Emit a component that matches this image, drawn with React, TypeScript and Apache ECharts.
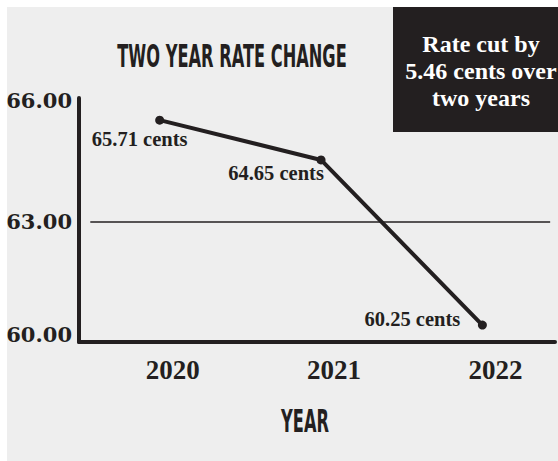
import React, { useEffect, useRef } from "react";
import * as echarts from "echarts";

const years = [2020, 2021, 2022];
const rates = [65.71, 64.65, 60.25];
const yTickValues = [60, 63, 66];
const referenceValue = 63;
const titleText = "TWO YEAR RATE CHANGE";
const xAxisTitle = "YEAR";
const noteLines = ["Rate cut by", "5.46 cents over", "two years"];

const INK = "#231f20";

export default function App() {
  const ref = useRef<HTMLDivElement>(null);
  useEffect(() => {
    if (!ref.current) return;
    const chart = echarts.init(ref.current, undefined, { renderer: "svg" });
    const labelOffsets = [
      [-20, 19],
      [-45, 13],
      [-70, -6],
    ];
    const isTick = (v: number, t: number) => Math.abs(v - t) < 1e-6;
    chart.setOption({
      animation: false,
      backgroundColor: "#ffffff",
      grid: { left: 79, right: 0, top: 98, bottom: 119, containLabel: false },
      xAxis: {
        type: "value",
        min: 2019.5,
        max: 2022.45,
        interval: 0.5,
        axisLine: { show: true, lineStyle: { color: INK, width: 4 } },
        axisTick: { show: false },
        splitLine: { show: false },
        axisLabel: {
          margin: 14,
          padding: [0, 0, 0, 26],
          fontFamily: "Liberation Serif",
          fontWeight: "bold",
          fontSize: 27,
          color: INK,
          showMinLabel: true,
          showMaxLabel: true,
          formatter: (v: number) => {
            const hit = years.find((y) => isTick(v, y));
            return hit !== undefined ? String(hit) : "";
          },
        },
      },
      yAxis: {
        type: "value",
        min: 59.8,
        max: 66.3,
        interval: 0.2,
        axisLine: { show: true, lineStyle: { color: INK, width: 4 } },
        axisTick: { show: false },
        splitLine: { show: false },
        axisLabel: {
          margin: 7,
          fontFamily: "DejaVu Serif",
          fontWeight: "bold",
          fontSize: 21,
          color: INK,
          formatter: (v: number) => {
            const hit = yTickValues.find((t) => isTick(v, t));
            if (hit === undefined) return "";
            const s = hit.toFixed(2);
            return hit === yTickValues[yTickValues.length - 1] ? `{up|${s}}` : s;
          },
          rich: {
            up: {
              fontFamily: "DejaVu Serif",
              fontWeight: "bold",
              fontSize: 21,
              color: INK,
              padding: [0, 0, 18, 0],
            },
          },
        },
      },
      graphic: [
        {
          type: "rect",
          z: -10,
          silent: true,
          shape: { x: 7, y: 7, width: 551, height: 454 },
          style: { fill: "#eeeeee" },
        },
        {
          type: "rect",
          z: 10,
          silent: true,
          shape: { x: 393, y: 7, width: 165, height: 125 },
          style: { fill: INK },
        },
        {
          type: "text",
          z: 11,
          x: 481,
          y: 71,
          silent: true,
          style: {
            text: noteLines.join("\n"),
            fontFamily: "Liberation Serif",
            fontWeight: "bold",
            fontSize: 24,
            lineHeight: 27,
            fill: "#ffffff",
            align: "center",
            verticalAlign: "middle",
          },
        },
        {
          type: "text",
          z: 11,
          x: 232,
          y: 56,
          scaleX: 0.515,
          silent: true,
          style: {
            text: titleText,
            fontFamily: "DejaVu Sans",
            fontWeight: "bold",
            fontSize: 31.5,
            fill: INK,
            align: "center",
            verticalAlign: "middle",
          },
        },
        {
          type: "text",
          z: 11,
          x: 305,
          y: 421,
          scaleX: 0.515,
          silent: true,
          style: {
            text: xAxisTitle,
            fontFamily: "DejaVu Sans",
            fontWeight: "bold",
            fontSize: 31.5,
            fill: INK,
            align: "center",
            verticalAlign: "middle",
          },
        },
      ],
      series: [
        {
          type: "line",
          data: years.map((yr, i) => ({
            value: [yr, rates[i]],
            label: { offset: labelOffsets[i] },
          })),
          symbol: "circle",
          symbolSize: 9,
          lineStyle: { color: INK, width: 4 },
          itemStyle: { color: INK },
          label: {
            show: true,
            position: "inside",
            fontFamily: "Liberation Serif",
            fontWeight: "bold",
            fontSize: 20.5,
            color: INK,
            formatter: (p: any) => `${(p.value[1] as number).toFixed(2)} cents`,
          },
          markLine: {
            silent: true,
            symbol: "none",
            label: { show: false },
            lineStyle: { color: INK, width: 1.5, type: "solid" },
            data: [
              [
                { coord: [2019.57, referenceValue] },
                { coord: [2022.42, referenceValue] },
              ],
            ],
          },
        },
      ],
    });
    return () => chart.dispose();
  }, []);
  return (
    <div
      ref={ref}
      style={{ position: "absolute", left: 0, top: 0, width: 558, height: 461 }}
    />
  );
}
